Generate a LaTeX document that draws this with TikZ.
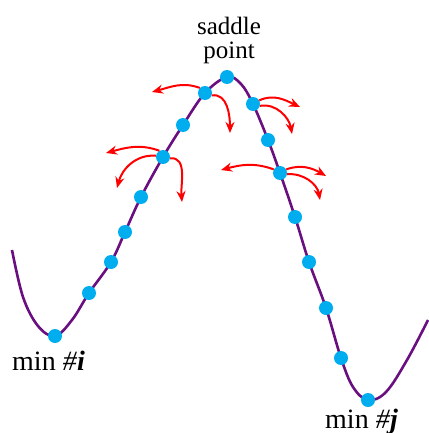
\documentclass[tikz,border=0pt]{standalone}
\usepackage{fontspec}
\setmainfont{Liberation Serif}
\newfontfamily\labelfont{Liberation Serif}
\usetikzlibrary{arrows.meta}
\definecolor{pathpurple}{HTML}{6A0F80}
\definecolor{walkerblue}{HTML}{00AEEF}
\definecolor{kickred}{HTML}{FF0000}

\begin{document}
\begin{tikzpicture}[x=1pt, y=1pt,
    landscape/.style={draw=pathpurple, line width=2.6pt},
    walker/.style={circle, fill=walkerblue, inner sep=0pt, minimum size=14pt},
    kick/.style={draw=kickred, line width=2pt, -{Stealth[length=11pt, width=9pt]}},
    caption/.style={font=\labelfont\fontsize{25}{24}\selectfont, align=center},
    minlabel/.style={font=\labelfont\fontsize{28}{28}\selectfont, inner sep=0pt,
      anchor=base west}]
  \useasboundingbox (0,0) rectangle (428,-433);

  % energy landscape
  \draw[landscape] plot[smooth, tension=0.6] coordinates {(12,-250) (23,-297)
    (38,-326) (55,-336) (72,-320) (89,-293) (111,-262) (125,-232) (141,-197)
    (163,-157) (183,-125) (205,-93) (227,-77) (241,-84) (253,-104) (268,-140)
    (280,-173) (295,-217) (309,-262) (326,-308) (341,-358) (353,-387)
    (368,-400) (386,-392) (407,-360) (428,-320)};

  % walkers along the path
  \foreach \n/\x/\y in {w1/55/-336, w2/89/-293, w3/111/-262, w4/125/-232,
      w5/141/-197, w6/163/-157, w7/183/-125, w8/205/-93, w9/227/-77,
      w10/253/-104, w11/268/-140, w12/280/-173, w13/295/-217, w14/309/-262,
      w15/326/-308, w16/341/-358, w17/368/-400}
    \node[walker] (\n) at (\x,\y) {};

  % ends of the kicks
  \coordinate (k1) at (152,-92);
  \coordinate (k2) at (230,-133);
  \coordinate (k3) at (106,-153);
  \coordinate (k4) at (117,-188);
  \coordinate (k5) at (182,-202);
  \coordinate (k6) at (300,-107);
  \coordinate (k7) at (292,-134);
  \coordinate (k8) at (221,-170);
  \coordinate (k9) at (326,-176);
  \coordinate (k10) at (320,-200);

  \draw[kick] (w8.135) to[out=160, in=15] (k1);
  \draw[kick] (w8.-20) to[out=10, in=90] (k2);
  \draw[kick] (w6.120) to[out=160, in=15] (k3);
  \draw[kick] (w6.170) to[out=175, in=75] (k4);
  \draw[kick] (w6.-10) to[out=5, in=95] (k5);
  \draw[kick] (w10.30) to[out=25, in=155] (k6);
  \draw[kick] (w10.-15) to[out=10, in=100] (k7);
  \draw[kick] (w12.150) to[out=160, in=15] (k8);
  \draw[kick] (w12.30) to[out=20, in=150] (k9);
  \draw[kick] (w12.-10) to[out=5, in=100] (k10);

  % labels
  \node[caption] (saddle) at (229,-40) {saddle\\point};
  \node[minlabel] (mini) at (12,-370) {min \textit{\#}\textbf{\textit{i}}};
  \node[minlabel] (minj) at (325,-428) {min \textit{\#}\textbf{\textit{j}}};
\end{tikzpicture}
\end{document}
